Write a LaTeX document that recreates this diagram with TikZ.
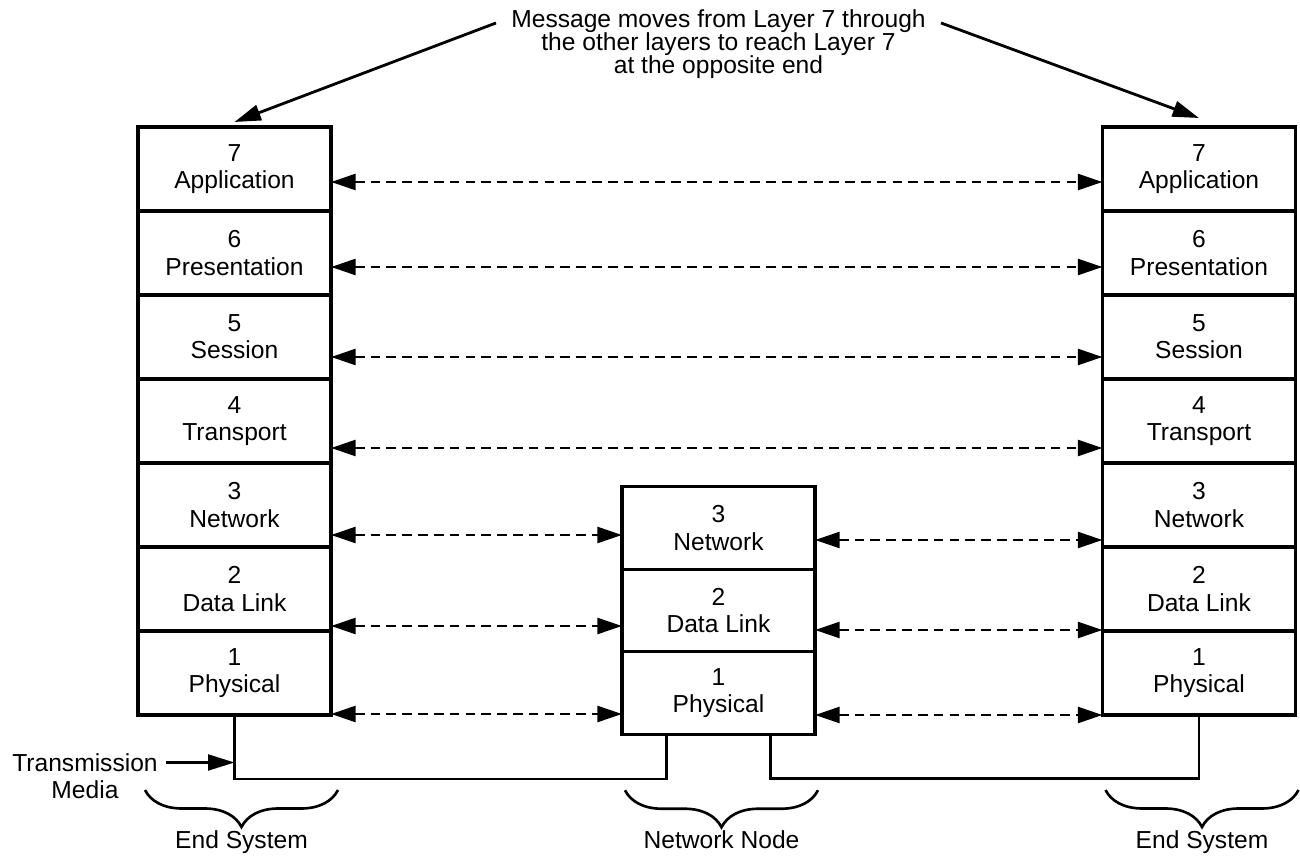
\documentclass[tikz,border=0pt]{standalone}
\usepackage{fontspec}
\setmainfont{Liberation Sans}
\usetikzlibrary{arrows.meta,positioning,decorations.pathreplacing}

\begin{document}
\begin{tikzpicture} [layer/.style={draw,line width=1.8pt,minimum width=3.86cm,minimum height=1.68cm,outer sep=0pt,inner sep=0pt,align=center,font=\fontsize{14}{15.5}\selectfont},
			nodelayer/.style={layer,minimum height=1.65cm},
			lbl/.style={inner sep=0pt,align=center,font=\fontsize{14}{15.5}\selectfont},
			msgtext/.style={lbl,font=\fontsize{14}{13.2}\selectfont},
			peer/.style={line width=1.7pt,dash pattern=on 5.5pt off 3.5pt,{Triangle[length=14pt,width=9pt]}-{Triangle[length=14pt,width=9pt]}},
			msgarrow/.style={line width=1.6pt,-{Triangle[length=15pt,width=9pt]}},
			wire/.style={line width=1.6pt},
			sysbrace/.style={decorate,decoration={brace,mirror,amplitude=0.74cm},line width=1.5pt}]
			\useasboundingbox (0,0) rectangle (26,17.14);
			
			\foreach \n/\name in {7/Application,6/Presentation,5/Session,4/Transport,3/Network,2/Data Link,1/Physical}{
			\node[layer] (l\n) at (4.69,2+1.68*\n) {\n\\\name};
			\node[layer] (r\n) at (23.98,2+1.68*\n) {\n\\\name};
			}
			\foreach \n/\name in {3/Network,2/Data Link,1/Physical}
			\node[nodelayer] (m\n) at (14.37,1.63+1.65*\n) {\n\\\name};
			
			\foreach \n/\dy in {7/0.26,6/0.28,5/0.4,4/0.54}
			\draw[peer] ([yshift=-\dy cm]l\n.east) -- ([yshift=-\dy cm]r\n.west);
			\foreach \n/\dy in {3/0.6,2/0.74,1/0.82}{
			\coordinate (a\n) at ([yshift=-\dy cm]l\n.east);
			\draw[peer] (a\n) -- (a\n -| m\n.west);
			}
			\foreach \n/\dy in {3/0.7,2/0.82,1/0.84}{
			\coordinate (b\n) at ([yshift=-\dy cm]r\n.west);
			\draw[peer] (b\n -| m\n.east) -- (b\n);
			}
			
			\node[msgtext] (msg) at (14.37,16.26) {Message moves from Layer 7 through\\the other layers to reach Layer 7\\at the opposite end};
			\draw[msgarrow] ([xshift=-0.3cm,yshift=-0.28cm]msg.north west) -- ([yshift=0.1cm]l7.north);
			\draw[msgarrow] ([xshift=0.3cm,yshift=-0.28cm]msg.north east) -- ([yshift=0.18cm]r7.north);
			
			\draw[wire] (l1.south) -- ++(0,-1.28) -| ([xshift=-1.04cm]m1.south);
			\draw[wire] ([xshift=1.04cm]m1.south) -- ++(0,-0.88) -| (r1.south);
			
			\node[lbl] (tm) at (1.7,1.62) {Transmission\\Media};
			\coordinate (tmA) at ([xshift=0.16cm,yshift=0.27cm]tm.east);
			\draw[msgarrow,line width=1.4pt] (tmA) -- (tmA -| l1.south);
			
			\draw[sysbrace] ([xshift=0.14cm,yshift=-1.5cm]l1.south west) -- node[lbl,below=0.78cm] (es1) {End System} ([xshift=0.14cm,yshift=-1.5cm]l1.south east);
			\draw[sysbrace] ([xshift=0.06cm,yshift=-1.12cm]m1.south west) -- node[lbl,below=0.78cm] (nn) {Network Node} ([xshift=0.06cm,yshift=-1.12cm]m1.south east);
			\draw[sysbrace] ([xshift=0.06cm,yshift=-1.5cm]r1.south west) -- node[lbl,below=0.78cm] (es2) {End System} ([xshift=0.06cm,yshift=-1.5cm]r1.south east);
			\end{tikzpicture}
\end{document}
